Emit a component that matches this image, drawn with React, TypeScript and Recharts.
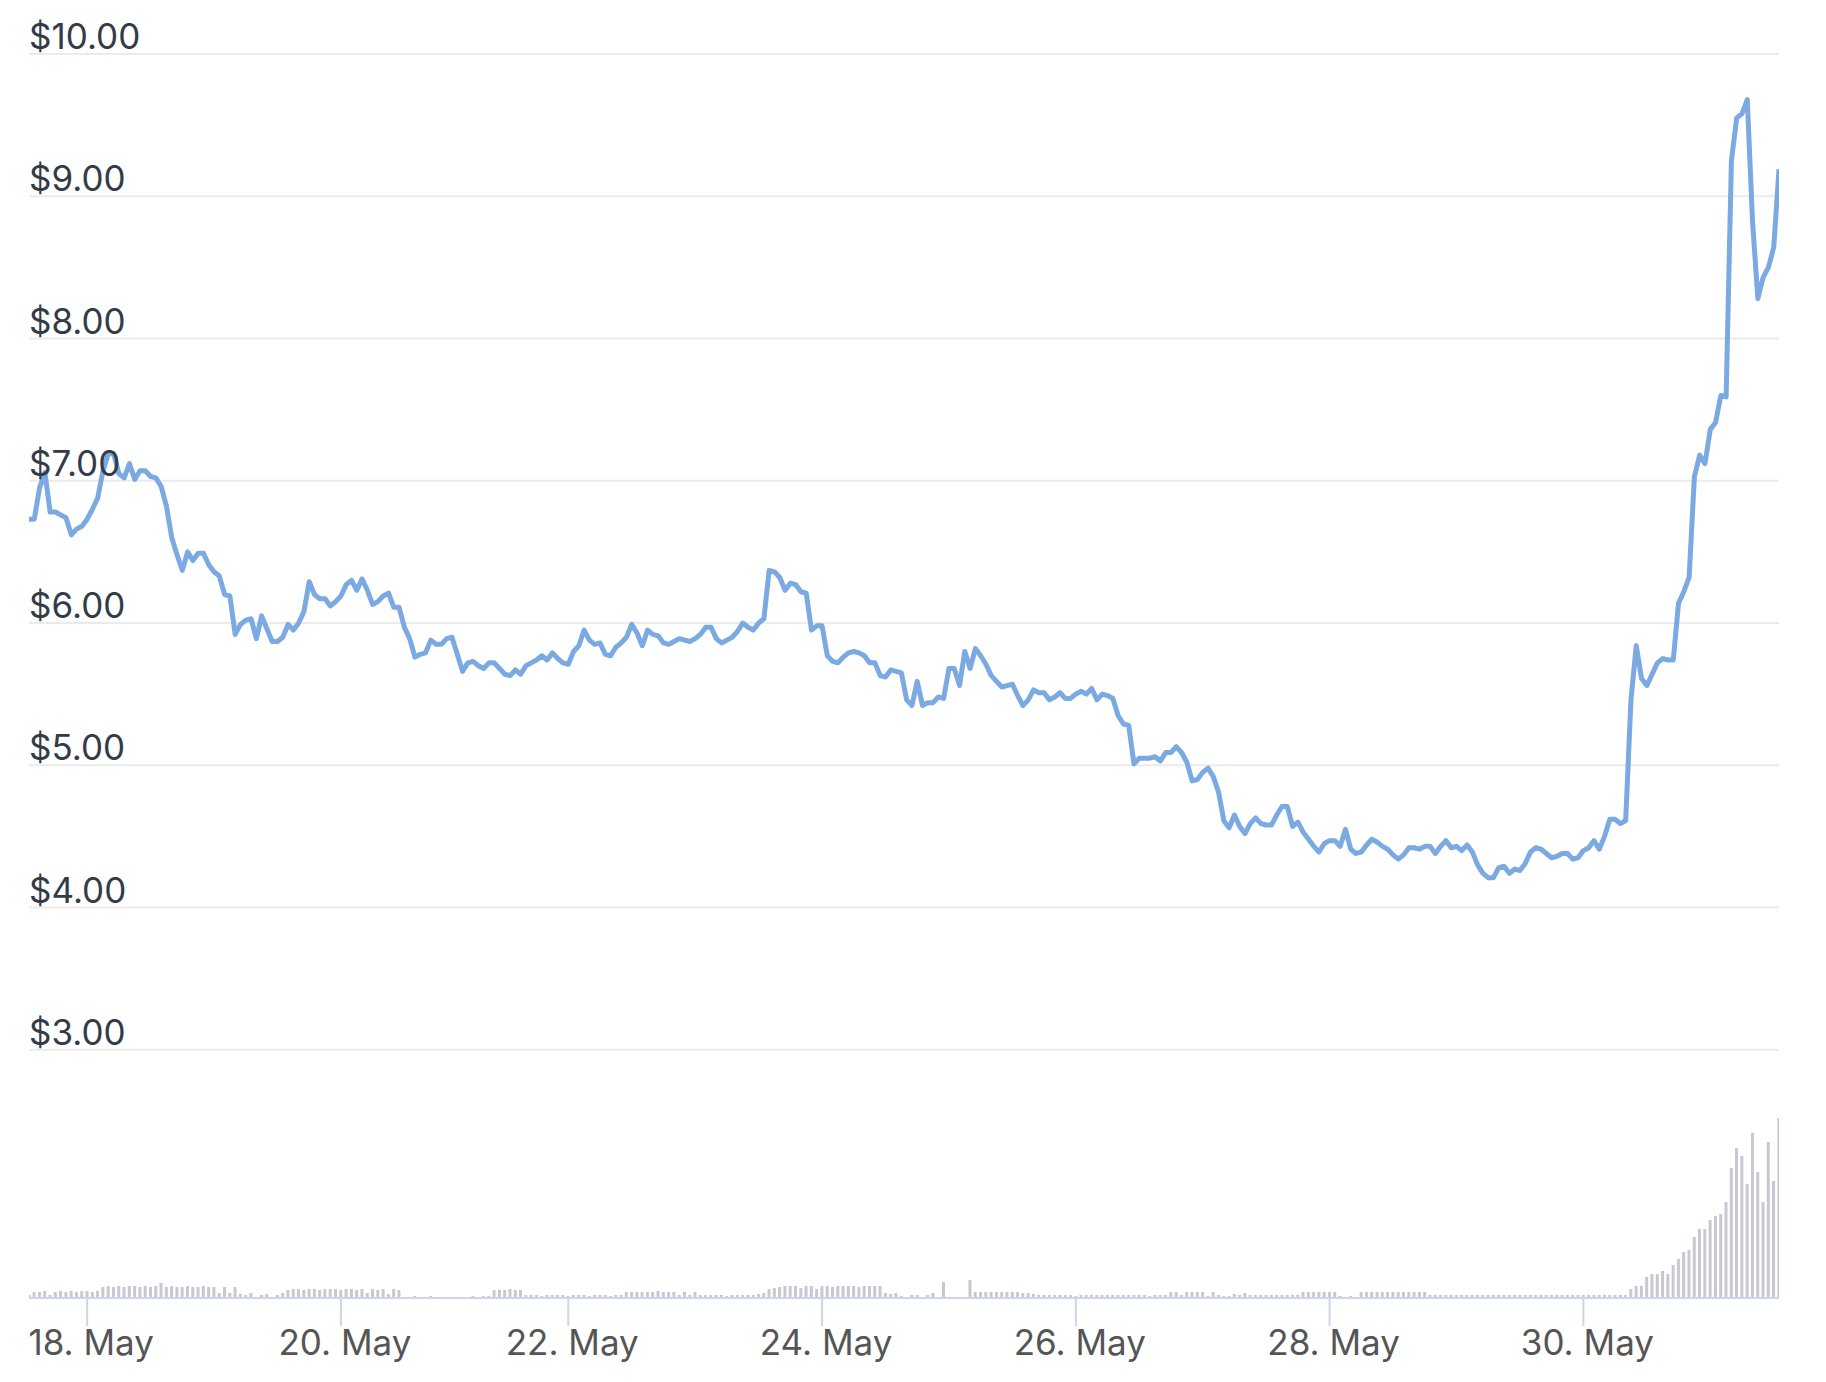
import React from "react";
import { ComposedChart, Line, Bar, XAxis, YAxis, CartesianGrid } from "recharts";

const priceValues = [
  6.73, 6.73, 6.95, 7.06, 6.78, 6.78, 6.76, 6.74, 6.62, 6.66,
  6.68, 6.73, 6.80, 6.88, 7.07, 7.19, 7.19, 7.05, 7.02, 7.12,
  7.01, 7.07, 7.07, 7.03, 7.02, 6.96, 6.82, 6.60, 6.48, 6.37,
  6.50, 6.44, 6.49, 6.49, 6.41, 6.36, 6.33, 6.20, 6.19, 5.92,
  5.99, 6.02, 6.03, 5.89, 6.05, 5.96, 5.87, 5.87, 5.90, 5.99,
  5.95, 6.00, 6.08, 6.29, 6.20, 6.17, 6.17, 6.12, 6.15, 6.19,
  6.27, 6.30, 6.23, 6.31, 6.23, 6.13, 6.15, 6.19, 6.21, 6.11,
  6.11, 5.97, 5.89, 5.76, 5.78, 5.79, 5.88, 5.85, 5.85, 5.89,
  5.90, 5.78, 5.66, 5.72, 5.73, 5.70, 5.68, 5.72, 5.72, 5.68,
  5.64, 5.63, 5.67, 5.64, 5.70, 5.72, 5.74, 5.77, 5.74, 5.79,
  5.75, 5.72, 5.71, 5.80, 5.84, 5.95, 5.88, 5.85, 5.86, 5.78,
  5.77, 5.83, 5.86, 5.90, 5.99, 5.93, 5.84, 5.95, 5.92, 5.91,
  5.86, 5.85, 5.87, 5.89, 5.88, 5.87, 5.89, 5.92, 5.97, 5.97,
  5.89, 5.86, 5.88, 5.90, 5.94, 6.00, 5.97, 5.95, 6.00, 6.03,
  6.37, 6.36, 6.32, 6.23, 6.28, 6.27, 6.22, 6.21, 5.95, 5.98,
  5.98, 5.77, 5.73, 5.72, 5.76, 5.79, 5.80, 5.79, 5.77, 5.72,
  5.72, 5.63, 5.62, 5.67, 5.66, 5.65, 5.46, 5.42, 5.59, 5.42,
  5.44, 5.44, 5.48, 5.47, 5.68, 5.68, 5.56, 5.80, 5.68, 5.82,
  5.77, 5.71, 5.63, 5.59, 5.55, 5.56, 5.57, 5.49, 5.42, 5.46,
  5.53, 5.51, 5.51, 5.46, 5.48, 5.51, 5.47, 5.47, 5.50, 5.52,
  5.50, 5.54, 5.46, 5.50, 5.49, 5.47, 5.35, 5.29, 5.28, 5.01,
  5.05, 5.05, 5.05, 5.06, 5.03, 5.09, 5.09, 5.13, 5.09, 5.02,
  4.89, 4.90, 4.95, 4.98, 4.92, 4.81, 4.61, 4.56, 4.65, 4.57,
  4.52, 4.59, 4.63, 4.59, 4.58, 4.58, 4.65, 4.71, 4.71, 4.57,
  4.60, 4.53, 4.48, 4.43, 4.39, 4.45, 4.47, 4.47, 4.43, 4.55,
  4.41, 4.38, 4.39, 4.44, 4.48, 4.46, 4.43, 4.41, 4.37, 4.34,
  4.37, 4.42, 4.42, 4.41, 4.43, 4.43, 4.38, 4.43, 4.47, 4.42,
  4.43, 4.40, 4.44, 4.39, 4.30, 4.24, 4.21, 4.21, 4.28, 4.29,
  4.24, 4.27, 4.26, 4.31, 4.39, 4.42, 4.41, 4.38, 4.35, 4.36,
  4.38, 4.38, 4.34, 4.35, 4.40, 4.42, 4.47, 4.41, 4.50, 4.62,
  4.62, 4.59, 4.61, 5.46, 5.84, 5.61, 5.56, 5.64, 5.72, 5.75,
  5.74, 5.74, 6.14, 6.22, 6.32, 7.03, 7.18, 7.12, 7.36, 7.41,
  7.60, 7.59, 9.25, 9.55, 9.58, 9.68, 8.82, 8.28, 8.43, 8.50,
  8.64, 9.19,
];

const volumeValues = [
  3, 6, 6, 7, 3, 6, 7, 6, 7, 6,
  7, 7, 6, 7, 11, 12, 11, 12, 11, 12,
  12, 11, 12, 11, 12, 15, 11, 12, 11, 11,
  12, 11, 11, 12, 11, 11, 5, 11, 5, 11,
  4, 3, 5, 0, 3, 4, 0, 3, 5, 8,
  9, 9, 8, 9, 9, 8, 9, 9, 9, 8,
  9, 9, 8, 9, 5, 9, 8, 9, 4, 9,
  8, 0, 0, 2, 0, 0, 2, 0, 0, 0,
  0, 0, 0, 0, 2, 0, 2, 2, 8, 8,
  8, 9, 8, 8, 3, 3, 3, 2, 3, 3,
  3, 3, 2, 3, 3, 3, 2, 3, 3, 3,
  2, 3, 3, 6, 6, 6, 6, 6, 6, 7,
  6, 6, 6, 3, 6, 3, 6, 3, 3, 3,
  3, 3, 2, 3, 3, 3, 3, 3, 4, 5,
  9, 10, 11, 12, 12, 12, 10, 12, 12, 9,
  12, 12, 11, 12, 12, 12, 12, 11, 12, 12,
  12, 12, 5, 4, 5, 2, 0, 3, 3, 0,
  3, 5, 0, 16, 0, 0, 0, 0, 18, 6,
  6, 6, 6, 6, 6, 6, 6, 6, 5, 5,
  4, 3, 3, 3, 3, 3, 3, 3, 2, 3,
  3, 3, 3, 3, 3, 3, 3, 3, 3, 3,
  3, 3, 2, 3, 3, 3, 6, 6, 3, 6,
  6, 6, 6, 2, 6, 3, 2, 2, 4, 3,
  5, 3, 3, 3, 3, 3, 3, 3, 3, 3,
  3, 6, 6, 6, 6, 6, 6, 6, 2, 0,
  2, 0, 6, 6, 6, 6, 6, 6, 6, 6,
  6, 6, 6, 6, 6, 3, 3, 3, 3, 3,
  3, 3, 3, 3, 3, 3, 3, 3, 3, 3,
  3, 3, 3, 3, 3, 3, 3, 3, 3, 3,
  3, 3, 3, 3, 3, 3, 3, 3, 3, 3,
  3, 3, 3, 9, 12, 12, 21, 24, 24, 27,
  24, 33, 39, 46, 48, 61, 69, 69, 78, 82,
  84, 96, 130, 150, 142, 114, 165, 126, 96, 156,
  117, 180,
];

const dateTickIndexes = [11, 59, 102, 150, 198, 246, 294];
const dateTickLabels = ["18. May", "20. May", "22. May", "24. May", "26. May", "28. May", "30. May"];
const priceTicks = [3, 4, 5, 6, 7, 8, 9, 10];

const data = priceValues.map((price, i) => ({ i, price, volume: volumeValues[i] }));

const FONT = "Inter, 'Liberation Sans', Arial, sans-serif";

const PriceTick = (props: any) => {
  const { y, payload } = props;
  return (
    <text x={21} y={y - 5} fill="#333b48" fontSize={35} fontFamily={FONT} textAnchor="start">
      {`$${Number(payload.value).toFixed(2)}`}
    </text>
  );
};

const DateTick = (props: any) => {
  const { x, payload } = props;
  const idx = dateTickIndexes.indexOf(payload.value);
  return (
    <text x={x + 4} y={1347} fill="#555555" fontSize={35} fontFamily={FONT} textAnchor="middle">
      {idx >= 0 ? dateTickLabels[idx] : ""}
    </text>
  );
};

export default function App() {
  return (
    <div style={{ width: 1810, height: 1370, background: "#ffffff" }}>
      <ComposedChart
        width={1810}
        height={1370}
        data={data}
        margin={{ top: 46, right: 39, bottom: 30, left: 21 }}
      >
        <CartesianGrid vertical={false} stroke="#ebebeb" strokeWidth={2} />
        <XAxis
          dataKey="i"
          type="number"
          domain={[0, 331]}
          ticks={dateTickIndexes}
          interval={0}
          height={50}
          tickSize={28}
          axisLine={{ stroke: "#ccd6eb", strokeWidth: 2 }}
          tickLine={{ stroke: "#ccd6eb", strokeWidth: 2 }}
          tick={<DateTick />}
          allowDataOverflow
        />
        <YAxis
          domain={[1.255, 10]}
          ticks={priceTicks}
          interval={0}
          width={120}
          mirror
          axisLine={false}
          tickLine={false}
          tick={<PriceTick />}
          allowDataOverflow
        />
        <YAxis yAxisId="v" orientation="right" domain={[0, 1244]} hide width={0} allowDataOverflow />
        <Bar dataKey="volume" yAxisId="v" fill="#c6c9d1" barSize={3} isAnimationActive={false} />
        <Line
          dataKey="price"
          type="linear"
          stroke="#7ba9e2"
          strokeWidth={5}
          strokeLinejoin="round"
          dot={false}
          activeDot={false}
          isAnimationActive={false}
        />
      </ComposedChart>
    </div>
  );
}
